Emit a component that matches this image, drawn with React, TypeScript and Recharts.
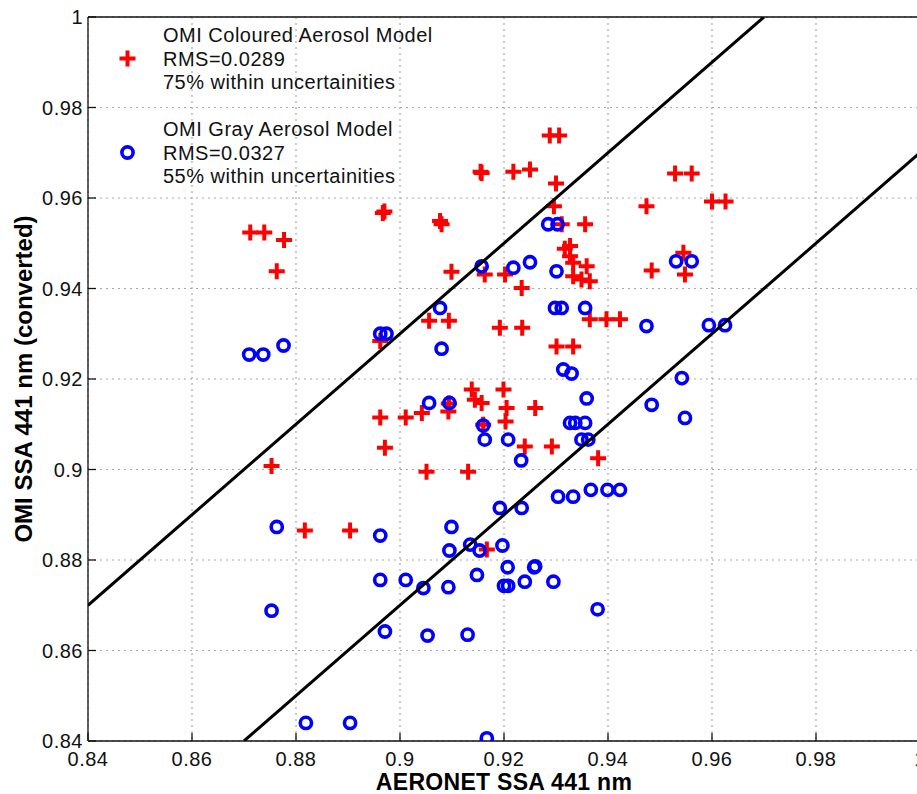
import React from 'react';
import {
  ScatterChart,
  Scatter,
  XAxis,
  YAxis,
  CartesianGrid,
  Legend,
  Label,
} from 'recharts';

// Tick values
const xTicks = [0.84, 0.86, 0.88, 0.9, 0.92, 0.94, 0.96, 0.98, 1.0];
const yTicks = [0.84, 0.86, 0.88, 0.9, 0.92, 0.94, 0.96, 0.98, 1.0];

// OMI Coloured Aerosol Model: [AERONET SSA, OMI SSA]
const colouredPoints: [number, number][] = [
  [0.8712, 0.9524], [0.8739, 0.9524], [0.8777, 0.9507], [0.8763, 0.9438],
  [0.8967, 0.9567], [0.897, 0.957], [0.9077, 0.9549], [0.908, 0.9542],
  [0.9099, 0.9437], [0.9056, 0.9329], [0.9094, 0.9329], [0.8962, 0.9284],
  [0.8962, 0.9115], [0.9011, 0.9115], [0.9042, 0.9125], [0.9093, 0.9128],
  [0.9094, 0.9146], [0.9138, 0.9177], [0.9144, 0.9154], [0.9157, 0.9147],
  [0.9199, 0.9177], [0.9205, 0.9136], [0.926, 0.9136], [0.9203, 0.9106],
  [0.916, 0.9099], [0.8971, 0.9048], [0.924, 0.9051], [0.9292, 0.9051],
  [0.9192, 0.9313], [0.9235, 0.9313], [0.9051, 0.8995], [0.9131, 0.8995],
  [0.9234, 0.9401], [0.9301, 0.9272], [0.9333, 0.9272], [0.9288, 0.9738],
  [0.9306, 0.9738], [0.9155, 0.9658], [0.9157, 0.9655], [0.9218, 0.9658],
  [0.925, 0.9663], [0.93, 0.9632], [0.9296, 0.9582], [0.9311, 0.9542],
  [0.9356, 0.9542], [0.9317, 0.9488], [0.9327, 0.9494], [0.9327, 0.9471],
  [0.9333, 0.9457], [0.9359, 0.9449], [0.9333, 0.9427], [0.9349, 0.942],
  [0.9365, 0.9416], [0.9163, 0.9431], [0.9202, 0.9431], [0.9474, 0.9582],
  [0.9529, 0.9654], [0.9561, 0.9654], [0.96, 0.9592], [0.9626, 0.9592],
  [0.9545, 0.9479], [0.9548, 0.9431], [0.9484, 0.944], [0.9365, 0.9332],
  [0.9397, 0.9332], [0.9423, 0.9332], [0.9381, 0.9025], [0.8753, 0.9008],
  [0.8817, 0.8865], [0.8904, 0.8865], [0.9167, 0.8823],
];

// OMI Gray Aerosol Model: [AERONET SSA, OMI SSA]
const grayPoints: [number, number][] = [
  [0.871, 0.9254], [0.8737, 0.9254], [0.8776, 0.9274], [0.8962, 0.93],
  [0.8974, 0.93], [0.9077, 0.9357], [0.908, 0.9267], [0.9056, 0.9147],
  [0.9095, 0.9147], [0.916, 0.9097], [0.9163, 0.9066], [0.9208, 0.9066],
  [0.9233, 0.902], [0.9298, 0.9357], [0.9311, 0.9357], [0.9356, 0.9357],
  [0.9157, 0.9449], [0.9218, 0.9446], [0.925, 0.9458], [0.9285, 0.9542],
  [0.9303, 0.9542], [0.9301, 0.9438], [0.9531, 0.946], [0.9561, 0.946],
  [0.9474, 0.9317], [0.9594, 0.9319], [0.9625, 0.9319], [0.9314, 0.9221],
  [0.933, 0.9212], [0.9542, 0.9202], [0.9359, 0.9157], [0.9484, 0.9143],
  [0.9548, 0.9114], [0.9327, 0.9103], [0.9337, 0.9103], [0.9356, 0.9103],
  [0.9349, 0.9066], [0.9362, 0.9066], [0.9304, 0.894], [0.9333, 0.894],
  [0.9367, 0.8955], [0.9399, 0.8955], [0.9423, 0.8955], [0.926, 0.8786],
  [0.924, 0.8752], [0.9295, 0.8752], [0.938, 0.8691], [0.8962, 0.8854],
  [0.9099, 0.8873], [0.9192, 0.8915], [0.9234, 0.8915], [0.9095, 0.8821],
  [0.9135, 0.8834], [0.9153, 0.8821], [0.9197, 0.8832], [0.8962, 0.8756],
  [0.9011, 0.8756], [0.9045, 0.8738], [0.9093, 0.874], [0.9148, 0.8767],
  [0.9207, 0.8784], [0.9258, 0.8784], [0.92, 0.8743], [0.9208, 0.8743],
  [0.8971, 0.8642], [0.9053, 0.8633], [0.913, 0.8635], [0.8763, 0.8873],
  [0.8753, 0.8688], [0.8819, 0.844], [0.8904, 0.844], [0.9167, 0.8406],
];

// Uncertainty envelope lines (y = x ± 0.03)
const upperBound = [
  { x: 0.84, y: 0.87 },
  { x: 0.97, y: 1.0 },
];
const lowerBound = [
  { x: 0.87, y: 0.84 },
  { x: 1.0, y: 0.97 },
];

const legendColoured = ['OMI Coloured Aerosol Model', 'RMS=0.0289', '75% within uncertainities'];
const legendGray = ['OMI Gray Aerosol Model', 'RMS=0.0327', '55% within uncertainities'];

const colouredData = colouredPoints.map(([x, y]) => ({ x, y }));
const grayData = grayPoints.map(([x, y]) => ({ x, y }));

const RED = '#ff0000';
const BLUE = '#0000ff';
const FONT = '"Liberation Sans", Arial, Helvetica, sans-serif';

const fmt = (v: number) => String(parseFloat(Number(v).toFixed(2)));

const PlusShape = (props: any) => {
  const { cx, cy } = props;
  if (cx == null || cy == null) return <g />;
  return (
    <path
      d={`M${cx - 8},${cy}H${cx + 8}M${cx},${cy - 8}V${cy + 8}`}
      stroke={RED}
      strokeWidth={4}
      fill="none"
    />
  );
};

const CircleShape = (props: any) => {
  const { cx, cy } = props;
  if (cx == null || cy == null) return <g />;
  return <circle cx={cx} cy={cy} r={5.6} fill="none" stroke={BLUE} strokeWidth={3.6} />;
};

const NoShape = () => <g />;

const LegendContent = () => (
  <svg width={520} height={200} style={{ fontFamily: FONT }}>
    <path d="M119.5,58.5H135.5M127.5,50.5V66.5" stroke={RED} strokeWidth={4} fill="none" />
    {legendColoured.map((t, i) => (
      <text key={t} x={163} y={42 + i * 23.5} fontSize={20} letterSpacing={0.5} fill="#111">
        {t}
      </text>
    ))}
    <circle cx={127.5} cy={152.5} r={5.6} fill="none" stroke={BLUE} strokeWidth={3.6} />
    {legendGray.map((t, i) => (
      <text key={t} x={163} y={136 + i * 23.5} fontSize={20} letterSpacing={0.5} fill="#111">
        {t}
      </text>
    ))}
  </svg>
);

const XTitle = (props: any) => {
  const vb = props.viewBox || { x: 88, y: 741, width: 832, height: 53 };
  return (
    <text
      x={vb.x + vb.width / 2}
      y={vb.y + 49}
      textAnchor="middle"
      fontSize={23}
      fontWeight="bold"
      letterSpacing={0.3}
      fill="#000"
      style={{ fontFamily: FONT }}
    >
      AERONET SSA 441 nm
    </text>
  );
};

const YTitle = (props: any) => {
  const vb = props.viewBox || { x: 0, y: 17, width: 88, height: 724 };
  const cx = vb.x + 32;
  const cy = vb.y + vb.height / 2;
  return (
    <text
      x={cx}
      y={cy}
      textAnchor="middle"
      fontSize={24}
      fontWeight="bold"
      fill="#000"
      transform={`rotate(-90, ${cx}, ${cy})`}
      style={{ fontFamily: FONT }}
    >
      OMI SSA 441 nm (converted)
    </text>
  );
};

const tickStyle = { fontSize: 20, fill: '#111', letterSpacing: 0.5 };
const axisLineStyle = { stroke: '#111', strokeWidth: 1.3 };

export default function App() {
  return (
    <div
      style={{
        position: 'fixed',
        left: 0,
        top: 0,
        width: 917,
        height: 794,
        overflow: 'hidden',
        background: '#fff',
        fontFamily: FONT,
      }}
    >
      <ScatterChart
        width={960}
        height={794}
        margin={{ top: 16, right: 39, bottom: 0, left: 0 }}
      >
        <CartesianGrid stroke="#a8a8a8" strokeDasharray="2 4" strokeWidth={1.2} />
        <XAxis
          dataKey="x"
          type="number"
          domain={[0.84, 1.0]}
          ticks={xTicks}
          allowDataOverflow
          height={53}
          tickSize={-8}
          tickMargin={19}
          tickFormatter={fmt}
          tick={tickStyle}
          axisLine={axisLineStyle}
          tickLine={axisLineStyle}
          interval={0}
        >
          <Label content={<XTitle />} />
        </XAxis>
        <YAxis
          dataKey="y"
          type="number"
          domain={[0.84, 1.0]}
          ticks={yTicks}
          allowDataOverflow
          width={88}
          tickSize={-8}
          tickMargin={13}
          tickFormatter={fmt}
          tick={tickStyle}
          axisLine={axisLineStyle}
          tickLine={axisLineStyle}
          interval={0}
        >
          <Label content={<YTitle />} />
        </YAxis>
        <XAxis
          xAxisId="top"
          orientation="top"
          type="number"
          domain={[0.84, 1.0]}
          ticks={xTicks}
          allowDataOverflow
          height={1}
          tickSize={-8}
          tick={false}
          axisLine={axisLineStyle}
          tickLine={axisLineStyle}
          interval={0}
        />
        <YAxis
          yAxisId="right"
          orientation="right"
          type="number"
          domain={[0.84, 1.0]}
          ticks={yTicks}
          allowDataOverflow
          width={1}
          tickSize={-8}
          tick={false}
          axisLine={axisLineStyle}
          tickLine={axisLineStyle}
          interval={0}
        />
        <Legend
          layout="vertical"
          align="center"
          verticalAlign="middle"
          content={<LegendContent />}
          wrapperStyle={{ left: 0, top: 0, width: 520, height: 200 }}
        />
        <Scatter
          name="OMI Coloured Aerosol Model"
          data={colouredData}
          shape={PlusShape}
          isAnimationActive={false}
        />
        <Scatter
          name="OMI Gray Aerosol Model"
          data={grayData}
          shape={CircleShape}
          isAnimationActive={false}
        />
        <Scatter
          name="upper"
          data={upperBound}
          shape={NoShape}
          line={{ stroke: '#000', strokeWidth: 3 }}
          legendType="none"
          isAnimationActive={false}
        />
        <Scatter
          name="lower"
          data={lowerBound}
          shape={NoShape}
          line={{ stroke: '#000', strokeWidth: 3 }}
          legendType="none"
          isAnimationActive={false}
        />
      </ScatterChart>
    </div>
  );
}
